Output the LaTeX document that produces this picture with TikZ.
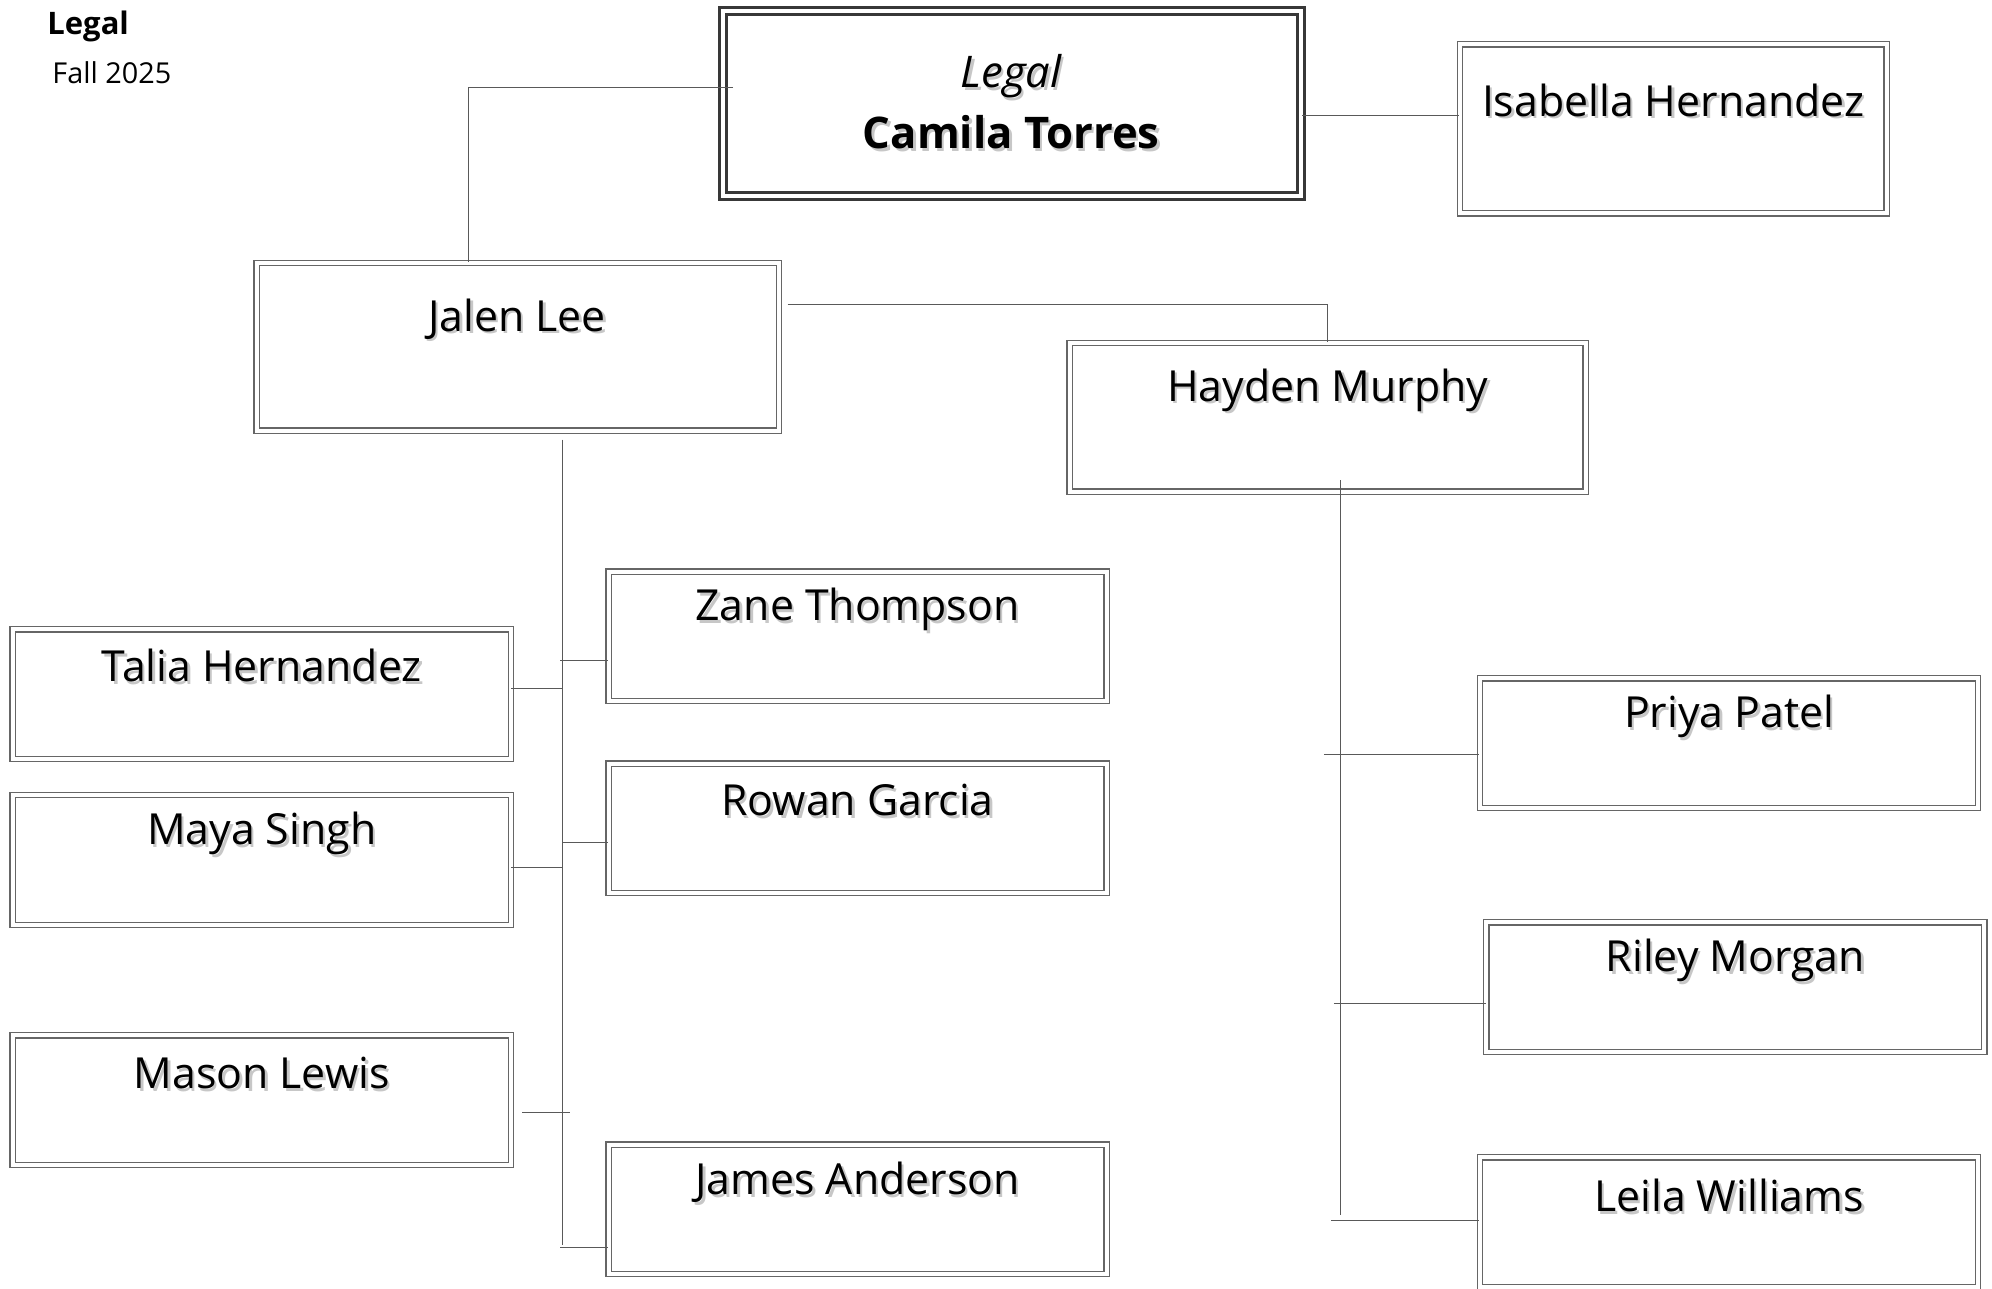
\documentclass[tikz,border=0pt]{standalone}
\usepackage{fontspec}
\setmainfont{Open Sans}
\usetikzlibrary{shadows}

% name with a soft grey shadow
\newcommand{\shd}[1]{\makebox[0pt][l]{\kern1.3pt\raisebox{-1.3pt}{\textcolor{black!22}{#1}}}#1}

\tikzset{
  box/.style={rectangle, draw=black!60, line width=0.6pt, double=white, double distance=2pt,
    fill=white, inner sep=0pt, minimum width=249pt, minimum height=64.8pt,
    drop shadow={shadow xshift=1.5pt, shadow yshift=-1.5pt, fill=black!12, opacity=1}},
  headbox/.style={box, draw=black!78, line width=1.5pt, double distance=2pt},
  nm/.style={font=\fontsize{21.4}{30.5}\selectfont, inner sep=0pt},
  link/.style={draw=black!65, line width=0.5pt},
}

\begin{document}
\begin{tikzpicture}[x=0.6352pt, y=-0.6352pt]
\useasboundingbox (0,0) rectangle (1568,1014);

% Title
\node[font=\fontsize{15.5}{18}\selectfont\bfseries, inner sep=0pt, anchor=west] (title) at (37,21) {Legal};
\node[font=\fontsize{14.4}{17}\selectfont, inner sep=0pt, anchor=west] (term) at (41,57) {Fall 2025};

% Boxes
\node[headbox, minimum width=289pt, minimum height=92.1pt] (camila) at (796.5,81.5) {};
\node[box, minimum width=213.4pt, minimum height=84.5pt] (isabella) at (1317,101.5) {};
\node[box, minimum width=261.1pt, minimum height=83.8pt] (jalen) at (407.5,273) {};
\node[box, minimum width=257.9pt, minimum height=74.3pt] (hayden) at (1045,328.5) {};
\node[box] (zane) at (675,501) {};
\node[box] (talia) at (206,546.5) {};
\node[box] (rowan) at (675,652) {};
\node[box] (maya) at (206,677) {};
\node[box] (mason) at (206,866) {};
\node[box] (james) at (675,952) {};
\node[box] (priya) at (1361,585) {};
\node[box] (riley) at (1366,777) {};
\node[box] (leila) at (1361,962) {};

% Names
\node[nm, font=\fontsize{21.8}{30.5}\selectfont, align=center] (camilaT) at (796,81) {\shd{\textit{Legal}}\\\shd{\textbf{Camila Torres}}};
\node[nm] (isabellaT) at (1317,80) {\shd{Isabella Hernandez}};
\node[nm] (jalenT) at (407,252) {\shd{Jalen Lee}};
\node[nm] (haydenT) at (1045,308) {\shd{Hayden Murphy}};
\node[nm] (zaneT) at (675,481) {\shd{Zane Thompson}};
\node[nm] (taliaT) at (206,525) {\shd{Talia Hernandez}};
\node[nm] (rowanT) at (675,631) {\shd{Rowan Garcia}};
\node[nm] (mayaT) at (206,657) {\shd{Maya Singh}};
\node[nm] (masonT) at (206,846) {\shd{Mason Lewis}};
\node[nm] (jamesT) at (675,932) {\shd{James Anderson}};
\node[nm] (priyaT) at (1361,565) {\shd{Priya Patel}};
\node[nm] (rileyT) at (1366,757) {\shd{Riley Morgan}};
\node[nm] (leilaT) at (1361,942) {\shd{Leila Williams}};

% Connector points
\coordinate (c1) at (577,69);
\coordinate (c2) at (369,0);
\coordinate (i1) at (0,91);
\coordinate (h0) at (620,240);
\coordinate (jtop) at (443,346);
\coordinate (jbot) at (443,980);
\coordinate (t1) at (441,520);
\coordinate (t2) at (443,542);
\coordinate (t3) at (443,663);
\coordinate (t4) at (443,683);
\coordinate (t5a) at (411,876);
\coordinate (t5) at (449,876);
\coordinate (t6) at (441,982);
\coordinate (htop) at (1055,378);
\coordinate (hbot) at (1055,956);
\coordinate (h1) at (1042,594);
\coordinate (h2) at (1050,790);
\coordinate (h3) at (1048,961);

% Links
\draw[link] (c1) -| (c2 |- jalen.north);
\draw[link] (camila.east |- i1) -- (isabella.west |- i1);
\draw[link] (h0) -| (hayden.north);
\draw[link] (jtop) -- (jbot);
\draw[link] (t1) -- (t1 -| zane.west);
\draw[link] (talia.east |- t2) -- (t2);
\draw[link] (t3) -- (t3 -| rowan.west);
\draw[link] (maya.east |- t4) -- (t4);
\draw[link] (t5a) -- (t5);
\draw[link] (t6) -- (t6 -| james.west);
\draw[link] (htop) -- (hbot);
\draw[link] (h1) -- (h1 -| priya.west);
\draw[link] (h2) -- (h2 -| riley.west);
\draw[link] (h3) -- (h3 -| leila.west);
\end{tikzpicture}
\end{document}
